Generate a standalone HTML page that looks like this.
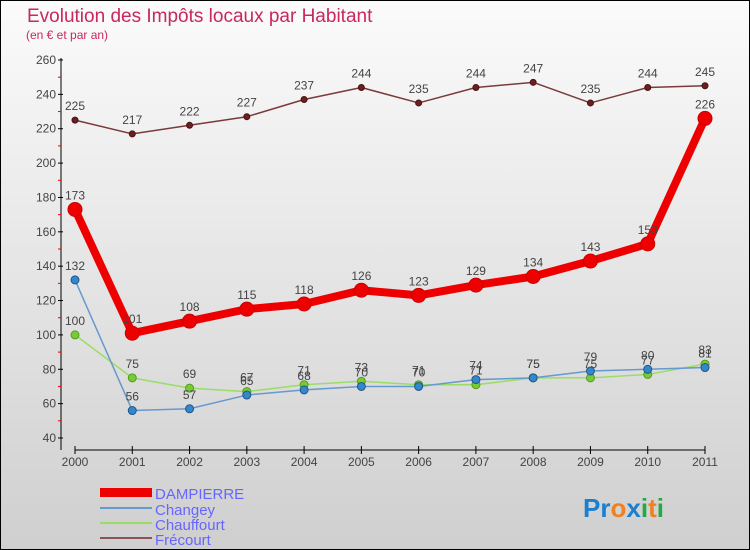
<!DOCTYPE html>
<html><head><meta charset="utf-8"><style>
body{margin:0}
#c{width:750px;height:550px;position:relative;overflow:hidden;font-family:"Liberation Sans",sans-serif}
</style></head><body>
<div id="c">
<svg id="s" width="750" height="550" xmlns="http://www.w3.org/2000/svg">
<defs><linearGradient id="bg" x1="0" y1="0" x2="0" y2="1"><stop offset="0" stop-color="#fbfbfb"/><stop offset="1" stop-color="#cfcfcf"/></linearGradient></defs>
<rect x="0.5" y="0.5" width="749" height="549" fill="url(#bg)" stroke="#000"/>
<text x="27" y="22" font-size="19" fill="#c8285a">Evolution des Impôts locaux par Habitant</text>
<text x="26" y="39" font-size="12" fill="#c8285a">(en € et par an)</text>
<g id="axes"></g><g id="series"></g>
<g font-size="15" fill="#6666ff">
<rect x="100" y="488" width="52" height="9" fill="#e00"/>
<text x="155" y="499">DAMPIERRE</text>
<rect x="100" y="507" width="52" height="2" fill="#6699cc"/>
<text x="155" y="515">Changey</text>
<rect x="100" y="522" width="52" height="2" fill="#99dd66"/>
<text x="155" y="530">Chauffourt</text>
<rect x="100" y="537" width="52" height="2" fill="#885555"/>
<text x="155" y="545">Frécourt</text>
</g>
<g font-size="26" font-weight="bold">
<text x="583" y="517"><tspan fill="#1a7fd0">Pr</tspan><tspan fill="#f08020">o</tspan><tspan fill="#1a7fd0">x</tspan><tspan fill="#22aa44">i</tspan><tspan fill="#f08020">t</tspan><tspan fill="#22aa44">i</tspan></text>
</g>
</svg></div>
<script>
const years=[2000,2001,2002,2003,2004,2005,2006,2007,2008,2009,2010,2011];
const yTicks=[40,60,80,100,120,140,160,180,200,220,240,260];
const dampierre=[173,101,108,115,118,126,123,129,134,143,153,226];
const changey=[132,56,57,65,68,70,70,74,75,79,80,81];
const chauffourt=[100,75,69,67,71,73,71,71,75,75,77,83];
const frecourt=[225,217,222,227,237,244,235,244,247,235,244,245];
const NS="http://www.w3.org/2000/svg";
const X=i=>75+i*(630/11);
const Y=v=>60+(260-v)*(378/220);
function mk(t,a,p){const e=document.createElementNS(NS,t);for(const k in a)e.setAttribute(k,a[k]);p.appendChild(e);return e;}
const ax=document.getElementById('axes');
const ya=mk('line',{x1:61,y1:58,x2:61,y2:450,stroke:'#000'},ax);


const xa=mk('line',{x1:75,y1:450,x2:705,y2:450,stroke:'#000'},ax);


yTicks.forEach(v=>{
 mk('line',{x1:58,y1:Y(v),x2:63,y2:Y(v),stroke:'#000'},ax);
 if(v<260) mk('line',{x1:58,y1:Y(v+10),x2:61,y2:Y(v+10),stroke:'#e00'},ax);
 const t=mk('text',{x:56,y:Y(v)+4,'text-anchor':'end','font-size':12,fill:'#444'},ax);
 t.textContent=v;
 
 
});
years.forEach((yr,i)=>{
 mk('line',{x1:X(i),y1:446,x2:X(i),y2:454,stroke:'#000'},ax);
 const t=mk('text',{x:X(i),y:466,'text-anchor':'middle','font-size':12,fill:'#444'},ax);
 t.textContent=yr;
 
 
});
const sg=document.getElementById('series');
function series(d,name,color,w,r,dot,stroke){
 const g=mk('g',{},sg);
 
 
 const pl=mk('polyline',{points:d.map((v,i)=>X(i)+','+Y(v)).join(' '),fill:'none',stroke:color,'stroke-width':w,'stroke-linejoin':'round'},g);
 
 
 d.forEach((v,i)=>{
  const c=mk('circle',{cx:X(i),cy:Y(v),r:r,fill:dot,stroke:stroke,'stroke-width':1},g);
  
  
  const t=mk('text',{x:X(i),y:Y(v)-10,'text-anchor':'middle','font-size':12,fill:'#444'},g);
  t.textContent=v;
  
  
 });
}
series(frecourt,'frecourt','#7a3a3a',1.5,3,'#6a2020','#4a1010');
series(chauffourt,'chauffourt','#99dd66',1.5,4,'#77cc33','#559922');
series(changey,'changey','#6699cc',1.5,4,'#3388cc','#225588');
series(dampierre,'dampierre','#ee0000',8,7,'#ee0000','#cc0000');
</script>
</body></html>
